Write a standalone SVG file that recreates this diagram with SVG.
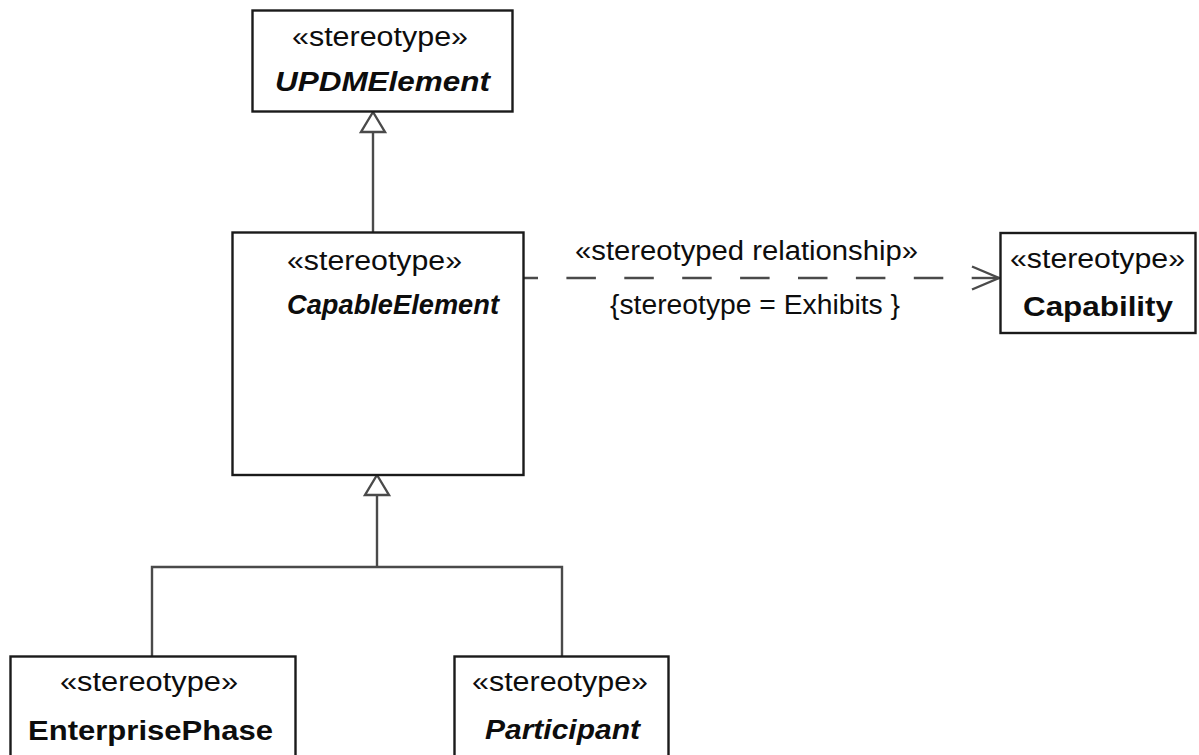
<svg xmlns="http://www.w3.org/2000/svg" width="1199" height="755" viewBox="0 0 1199 755">
  <style>
    .box { fill: #ffffff; stroke: #1a1a1a; stroke-width: 2.4; }
    .conn { fill: none; stroke: #4a4a4a; stroke-width: 2.4; }
    .head { fill: #ffffff; stroke: #4a4a4a; stroke-width: 2.4; stroke-linejoin: miter; }
    .dash { stroke-dasharray: 29.5 28.4; stroke-dashoffset: 15.5; }
    text { font-family: "Liberation Sans", Arial, sans-serif; font-size: 27px; fill: #0d0d0d; }
    .st { font-weight: normal; }
    .nm { font-weight: bold; }
    .ab { font-weight: bold; font-style: italic; }
  </style>
  <rect width="1199" height="755" fill="#ffffff"/>

  <!-- connectors -->
  <g id="connectors">
    <!-- CapableElement generalizes UPDMElement -->
    <line class="conn" x1="373" y1="132" x2="373" y2="232"/>
    <polygon class="head" points="373,112 385,132 361,132"/>
    <!-- EnterprisePhase / Participant generalize CapableElement -->
    <polyline class="conn" points="152,656 152,567 562,567 562,656"/>
    <line class="conn" x1="377" y1="567" x2="377" y2="495"/>
    <polygon class="head" points="377,475 389,495 365,495"/>
    <!-- stereotyped relationship to Capability -->
    <line class="conn dash" x1="524" y1="278" x2="972" y2="278"/>
    <line class="conn" x1="972" y1="278" x2="999" y2="278"/>
    <polyline class="conn" points="972,266.5 999,278 972,289.5"/>
    <text class="st" x="575" y="260" textLength="343" lengthAdjust="spacingAndGlyphs">«stereotyped relationship»</text>
    <text class="st" x="610" y="314" textLength="290" lengthAdjust="spacingAndGlyphs">{stereotype = Exhibits }</text>
  </g>

  <g id="UPDMElement">
    <rect class="box" x="252.5" y="10.5" width="260" height="101"/>
    <text class="st" x="292" y="46" textLength="176" lengthAdjust="spacingAndGlyphs">«stereotype»</text>
    <text class="ab" x="275" y="91" textLength="215" lengthAdjust="spacingAndGlyphs">UPDMElement</text>
  </g>

  <g id="CapableElement">
    <rect class="box" x="232.5" y="232.5" width="291" height="242.5"/>
    <text class="st" x="287" y="270" textLength="175" lengthAdjust="spacingAndGlyphs">«stereotype»</text>
    <text class="ab" x="287" y="314" textLength="212" lengthAdjust="spacingAndGlyphs">CapableElement</text>
  </g>

  <g id="Capability">
    <rect class="box" x="1000.5" y="233" width="195" height="100"/>
    <text class="st" x="1010" y="268" textLength="175" lengthAdjust="spacingAndGlyphs">«stereotype»</text>
    <text class="nm" x="1023" y="316" textLength="150" lengthAdjust="spacingAndGlyphs">Capability</text>
  </g>

  <g id="EnterprisePhase">
    <rect class="box" x="10.5" y="656.5" width="285" height="120"/>
    <text class="st" x="60" y="691" textLength="178" lengthAdjust="spacingAndGlyphs">«stereotype»</text>
    <text class="nm" x="28" y="740" textLength="245" lengthAdjust="spacingAndGlyphs">EnterprisePhase</text>
  </g>

  <g id="Participant">
    <rect class="box" x="454.5" y="656.5" width="214" height="120"/>
    <text class="st" x="472" y="691" textLength="176" lengthAdjust="spacingAndGlyphs">«stereotype»</text>
    <text class="ab" x="485" y="739" textLength="155" lengthAdjust="spacingAndGlyphs">Participant</text>
  </g>
</svg>
